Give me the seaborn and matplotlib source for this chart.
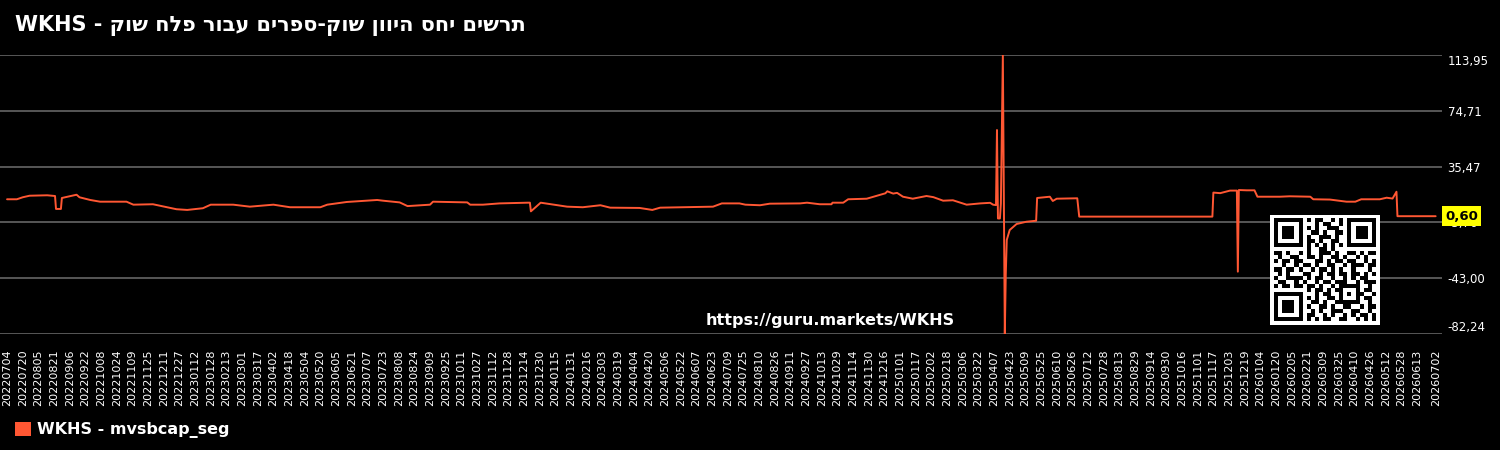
import matplotlib
matplotlib.use("Agg")
import numpy as np
import pandas as pd
import matplotlib.pyplot as plt
import matplotlib.transforms as mtransforms
from matplotlib.patches import Patch
import seaborn as sns

# データ
ticker = "WKHS"
series_name = "WKHS - mvsbcap_seg"
url = "https://guru.markets/WKHS"
title_he = "תרשים יחס היוון שוק-ספרים עבור פלח שוק"

dates = [
    "20220704", "20220714", "20220720", "20220727", "20220814", "20220822", "20220823", "20220828",
    "20220829", "20220913", "20220916", "20220927", "20221007", "20221017", "20221103", "20221110",
    "20221130", "20221224", "20230104", "20230120", "20230128", "20230220", "20230309", "20230402",
    "20230419", "20230520", "20230527", "20230616", "20230717", "20230723", "20230809", "20230817",
    "20230909", "20230912", "20231017", "20231020", "20231102", "20231119", "20231218", "20231220",
    "20231221", "20231231", "20240127", "20240212", "20240301", "20240311", "20240410", "20240423",
    "20240501", "20240624", "20240703", "20240721", "20240727", "20240811", "20240821", "20240921",
    "20240928", "20241011", "20241023", "20241024", "20241104", "20241109", "20241128", "20241217",
    "20241219", "20241225", "20241229", "20250104", "20250114", "20250128", "20250204", "20250214",
    "20250224", "20250310", "20250324", "20250403", "20250406", "20250409", "20250410", "20250411",
    "20250413", "20250414", "20250416", "20250418", "20250419", "20250420", "20250423", "20250430",
    "20250510", "20250520", "20250521", "20250603", "20250606", "20250610", "20250701", "20250703",
    "20251116", "20251117", "20251124", "20251204", "20251211", "20251212", "20251213", "20251221",
    "20251229", "20260101", "20260124", "20260203", "20260224", "20260227", "20260316", "20260402",
    "20260411", "20260417", "20260506", "20260513", "20260519", "20260523", "20260524", "20260702",
]
values = [
    12.5, 12.5, 13.9, 15.0, 15.3, 14.8, 5.7, 5.7,
    13.4, 15.7, 13.9, 12.0, 10.8, 10.8, 10.8, 8.7,
    9.0, 5.5, 5.0, 6.2, 8.7, 8.7, 7.3, 8.7,
    6.9, 6.9, 8.7, 10.6, 12.0, 11.5, 10.3, 7.7,
    8.7, 10.8, 10.3, 8.7, 8.7, 9.6, 10.1, 10.1,
    4.0, 10.1, 7.3, 6.9, 8.3, 6.6, 6.4, 5.0,
    6.6, 7.3, 9.6, 9.6, 8.7, 8.3, 9.4, 9.6,
    10.1, 9.0, 9.0, 10.1, 10.1, 12.5, 12.9, 16.7,
    18.1, 16.5, 17.0, 14.3, 12.9, 14.8, 14.0, 11.5,
    11.8, 8.7, 9.6, 10.0, 8.7, 8.4, 61.2, -1.0,
    -1.0, 9.6, 113.95, -82.24, -40.0, -16.1, -9.1, -4.9,
    -3.3, -2.6, 13.4, 14.3, 11.3, 12.9, 13.2, 0.3,
    0.3, 17.2, 16.8, 18.6, 18.6, -38.4, 19.0, 18.8,
    18.8, 14.3, 14.3, 14.6, 14.3, 12.5, 12.3, 10.8,
    10.8, 12.5, 12.5, 13.6, 13.0, 17.8, 0.6, 0.6,
]

# x軸ラベル: 16日ごと + 最終日
tick_dates = list(pd.date_range("2022-07-04", "2026-06-13", freq="16D")) + [pd.Timestamp("2026-07-02")]

# QRコード風の模様 (装飾)
qr_rows = [
    "#######.#.##..#.#.#######",
    "#.....#...#.##..#.#.....#",
    "#.###.#.#.#..###..#.###.#",
    "#.###.#..##.#..##.#.###.#",
    "#.###.#.#..###.#..#.###.#",
    "#.....#.##.#..##..#.....#",
    "#######.#.#.#.#.#.#######",
    "........#..##.#..........",
    "##.#..#.#..###.#..##.#.##",
    ".#..##..##.#..##.#..#.#..",
    "#.##.##...##.#.##.##..#.#",
    "..#..#.##.#..##..#.###.##",
    "##.##.#..#.##.#.#..#...#.",
    ".#.#...##..#.##.##.##.#.#",
    "#..####.#.##..#..#.#.##..",
    ".##..#.#..#.##.###..#.###",
    "#.##.##.##.#..#.#####..#.",
    "........#.##.#.##...#.##.",
    "#######...#.##..#.#.##..#",
    "#.....#.#.#..##.#...#.##.",
    "#.###.#..##.#..######..#",
    "#.###.#.#..##.#..##..#.##",
    "#.###.#..#.#..###..##..#.",
    "#.....#.##..#.#..#.#.##.#",
    "#######.#.#.##..##..#.#.#",
]

line_color = "#FF5733"
df = pd.DataFrame({"date": pd.to_datetime(dates, format="%Y%m%d"), "value": values})

sns.set_style("dark")
plt.rcParams["font.family"] = ["DejaVu Sans"]

fig = plt.figure(figsize=(15, 4.5), dpi=100, facecolor="black")
ax = fig.add_axes([0.0, 1 - 334 / 450, 1442 / 1500, 279 / 450])
ax.set_facecolor("black")

sns.lineplot(data=df, x="date", y="value", color=line_color, linewidth=1.4, ax=ax)

ymin, ymax = min(values), max(values)
yticks = np.linspace(ymin, ymax, 6)
ax.set_ylim(ymin, ymax)
ax.set_xlim(df["date"].iloc[0] - pd.Timedelta(days=7.2), df["date"].iloc[-1] + pd.Timedelta(days=6.5))

ax.yaxis.tick_right()
ax.set_yticks(yticks)
ax.set_yticklabels([f"{v:.2f}".replace(".", ",") for v in yticks])
ylabels = ax.get_yticklabels()
ylabels[0].set_va("bottom")
ylabels[-1].set_va("top")
ax.tick_params(axis="y", length=0, pad=4, labelsize=8.5, labelcolor="white")

ax.set_xticks(tick_dates)
ax.set_xticklabels([d.strftime("%Y%m%d") for d in tick_dates], rotation=90)
ax.tick_params(axis="x", length=0, pad=11, labelsize=8, labelcolor="white")

ax.grid(axis="y", color="#666666", linewidth=1.2)
ax.grid(axis="x", visible=False)
ax.set_xlabel("")
ax.set_ylabel("")
for s in ax.spines.values():
    s.set_visible(False)

# 最新値ラベル
trans = mtransforms.blended_transform_factory(ax.transAxes, ax.transData)
ax.text(1.002, values[-1], f"{values[-1]:.2f}".replace(".", ","), transform=trans,
        ha="left", va="center", fontsize=9.5, fontweight="bold", color="black",
        bbox=dict(boxstyle="square,pad=0.25", facecolor="#FFFF00", edgecolor="none"), zorder=5)

# タイトル (右から左の表示のため文字列を反転)
fig.text(15 / 1500, 1 - 25 / 450, f"{ticker} - " + title_he[::-1], color="white",
         fontsize=15, fontweight="bold", va="center", ha="left")

fig.text(830 / 1500, 1 - 320 / 450, url, color="white", fontsize=11.5,
         fontweight="bold", ha="center", va="center")

# 凡例
fig.legend(handles=[Patch(facecolor=line_color, edgecolor="none", label=series_name)],
           loc="center left", bbox_to_anchor=(1 / 1500, 1 - 430 / 450), frameon=False,
           handlelength=1.0, handleheight=1.0, handletextpad=0.35,
           prop={"weight": "bold", "size": 11.5}, labelcolor="white")

# QR
qr = np.array([[0 if c == "#" else 1 for c in r.ljust(25, ".")[:25]] for r in qr_rows])
qr = np.pad(qr, 1, constant_values=1)
qax = fig.add_axes([1270 / 1500, 1 - 325 / 450, 110 / 1500, 110 / 450])
qax.imshow(qr, cmap="gray", vmin=0, vmax=1, interpolation="nearest")
qax.set_axis_off()

fig.savefig("out.png", dpi=100, facecolor="black")
